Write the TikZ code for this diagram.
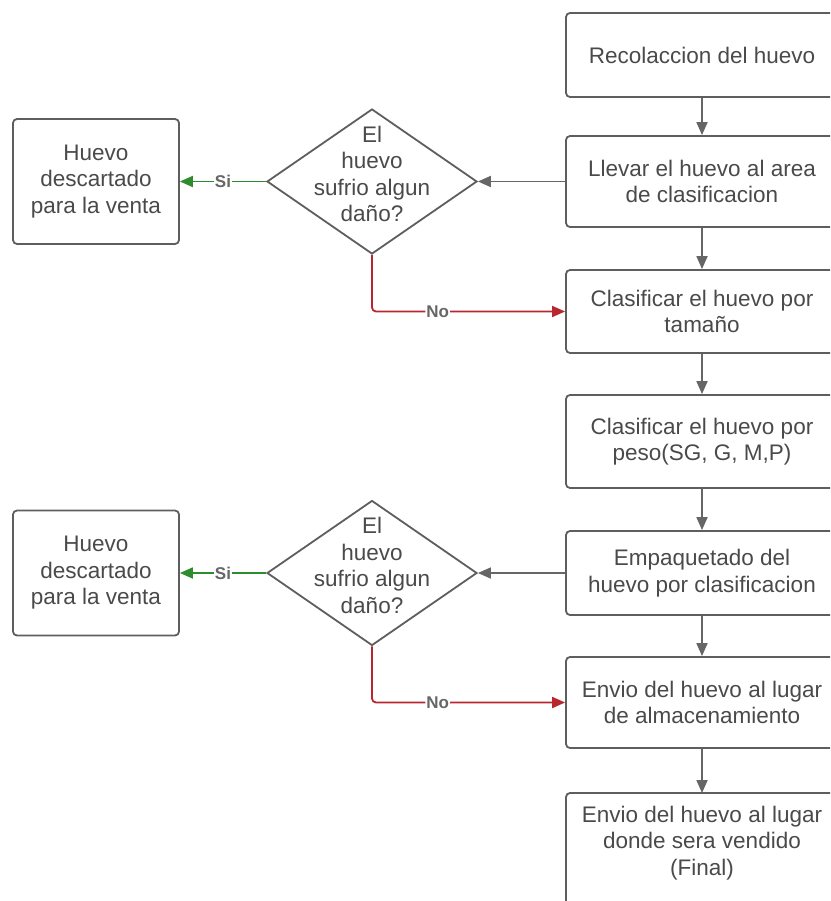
\documentclass[tikz,border=0pt]{standalone}
\usepackage{fontspec}
\setmainfont{Liberation Sans}
\usetikzlibrary{arrows.meta,shapes.geometric}
\definecolor{boxc}{HTML}{5E5E5E}
\definecolor{txtc}{HTML}{4A4A4A}
\definecolor{linec}{HTML}{666666}
\definecolor{greenc}{HTML}{2E8B2E}
\definecolor{redc}{HTML}{B8262E}
\tikzset{
  maintext/.style={text=txtc, align=center, font=\fontsize{22.5}{26.5}\selectfont},
  procbox/.style={maintext, draw=boxc, line width=1.8pt, rounded corners=4pt,
    minimum width=272pt, fill=white, inner sep=0pt},
  sidebox/.style={procbox, minimum width=166pt, minimum height=125pt},
  decbox/.style={diamond, draw=boxc, line width=1.8pt, minimum width=210pt,
    minimum height=145pt, inner sep=0pt, fill=white},
  dectext/.style={maintext, inner sep=0pt},
  flow/.style={draw=linec, line width=1.8pt, -{Triangle[length=13pt,width=11pt]}},
  yesflow/.style={flow, draw=greenc},
  noflow/.style={flow, draw=redc, rounded corners=4pt},
  lbl/.style={fill=white, text=linec, font=\fontsize{17}{19}\selectfont\bfseries, inner sep=1pt}
}
\begin{document}
\begin{tikzpicture}[x=1pt,y=-1pt]
\path[use as bounding box, fill=white] (0,0) rectangle (830,901);
\clip (0,0) rectangle (830,901);

% right column
\node[procbox, minimum height=84pt] (b1) at (702,55) {Recolaccion del huevo};
\node[procbox, minimum height=91pt] (b2) at (702,181.5) {Llevar el huevo al area\\de clasificacion};
\node[procbox, minimum height=83pt] (b3) at (702,311.5) {Clasificar el huevo por\\tama\~no};
\node[procbox, minimum height=93pt] (b4) at (702,441.5) {Clasificar el huevo por\\peso(SG, G, M,P)};
\node[procbox, minimum height=84pt] (b5) at (702,573) {Empaquetado del\\huevo por clasificacion};
\node[procbox, minimum height=91pt] (b6) at (702,702.5) {Envio del huevo al lugar\\de almacenamiento};
\draw[draw=boxc, line width=1.8pt, rounded corners=4pt, fill=white] (566,930) -- (566,793) -- (838,793) -- (838,930);
\coordinate (b7top) at (702,793);
\node[maintext] (b7) at (702,843) {Envio del huevo al lugar\\donde sera vendido\\(Final)};

% decisions
\node[decbox] (d1) at (372,181.5) {};
\node[dectext] (d1t) at (372,174) {El\\huevo\\sufrio algun\\da\~no?};
\node[decbox] (d2) at (372,573) {};
\node[dectext] (d2t) at (372,565.5) {El\\huevo\\sufrio algun\\da\~no?};

% discarded
\node[sidebox] (s1) at (96,181.5) {Huevo\\descartado\\para la venta};
\node[sidebox] (s2) at (96,573) {Huevo\\descartado\\para la venta};

% connectors
\draw[flow] (b1) -- (b2);
\draw[flow] (b2) -- (b3);
\draw[flow] (b3) -- (b4);
\draw[flow] (b4) -- (b5);
\draw[flow] (b5) -- (b6);
\draw[flow] (b6) -- (b7top);

\draw[flow] (b2.west) -- (d1.east);
\draw[yesflow] (d1.west) -- node[lbl] {Si} (s1.east);
\draw[noflow] (d1.south) |- node[lbl, pos=0.67] {No} (b3.west);

\draw[flow] (b5.west) -- (d2.east);
\draw[yesflow] (d2.west) -- node[lbl] {Si} (s2.east);
\draw[noflow] (d2.south) |- node[lbl, pos=0.67] {No} (b6.west);
\end{tikzpicture}
\end{document}
